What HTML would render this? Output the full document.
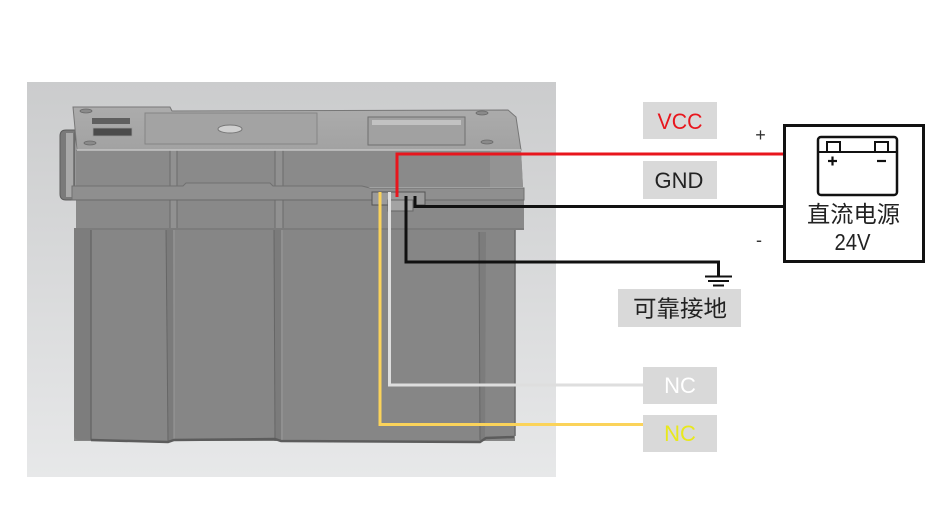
<!DOCTYPE html>
<html><head><meta charset="utf-8"><style>
html,body{margin:0;padding:0;background:#fff;}
svg{display:block;}
text{font-family:"Liberation Sans","Noto Sans CJK SC",sans-serif;}
</style></head><body>
<svg width="942" height="520" viewBox="0 0 942 520" xmlns="http://www.w3.org/2000/svg">
<defs>
<linearGradient id="bg" x1="0" y1="0" x2="0" y2="1">
<stop offset="0" stop-color="#cbcccd"/>
<stop offset="1" stop-color="#e7e8e9"/>
</linearGradient>
<linearGradient id="lid" x1="0" y1="0" x2="0" y2="1">
<stop offset="0" stop-color="#acacac"/>
<stop offset="1" stop-color="#a2a2a2"/>
</linearGradient>
</defs>
<rect width="942" height="520" fill="#fff"/>
<rect x="27" y="82" width="529" height="395" fill="url(#bg)"/>

<!-- battery body -->
<path d="M60,136 q0,-6 6,-6 h9 v70 h-9 q-6,0 -6,-6z" fill="#7a7a7a" stroke="#5c5c5c" stroke-width="1"/>
<rect x="66" y="133" width="7" height="64" fill="#a9a9a9"/>

<rect x="74" y="228" width="441" height="213" fill="#868686"/>
<path d="M74,228 h17 v212 h-12 q-5,0 -5,-6z" fill="#7d7d7d"/>
<line x1="91" y1="228" x2="91" y2="440" stroke="#686868" stroke-width="1.5"/>
<path d="M166,228 L168,441 L174,441 L173,228z" fill="#7b7b7b"/>
<line x1="166" y1="228" x2="168" y2="441" stroke="#666" stroke-width="1"/>
<line x1="174" y1="228" x2="174" y2="441" stroke="#999" stroke-width="1"/>
<path d="M274,228 L275,441 L281,441 L281,228z" fill="#7b7b7b"/>
<line x1="274" y1="228" x2="275" y2="441" stroke="#666" stroke-width="1"/>
<line x1="282" y1="228" x2="282" y2="441" stroke="#999" stroke-width="1"/>
<path d="M479,232 L480,440 L485,440 L486,232z" fill="#7c7c7c"/>
<line x1="479" y1="232" x2="480" y2="440" stroke="#666" stroke-width="1"/>
<line x1="515" y1="228" x2="515" y2="436" stroke="#6a6a6a" stroke-width="1.5"/>
<path d="M91,440 L168,442 L174,440 L275,439 L281,441 L480,442 L486,438 L514,437" fill="none" stroke="#5c5c5c" stroke-width="2.5"/>

<!-- lower band -->
<rect x="76" y="200" width="448" height="30" fill="#898989"/>
<line x1="76" y1="229" x2="524" y2="229" stroke="#6f6f6f" stroke-width="1"/>
<!-- upper band -->
<polygon points="76,150 521,150 523,187 76,187" fill="#8a8a8a"/>
<polygon points="490,150 521,150 523,187 490,187" fill="#939393"/>
<rect x="170" y="150" width="7" height="78" fill="#919191"/>
<line x1="170" y1="150" x2="170" y2="228" stroke="#6c6c6c" stroke-width="1"/>
<line x1="177" y1="150" x2="177" y2="228" stroke="#6c6c6c" stroke-width="1"/>
<rect x="275" y="150" width="8" height="78" fill="#919191"/>
<line x1="275" y1="150" x2="275" y2="228" stroke="#6c6c6c" stroke-width="1"/>
<line x1="283" y1="150" x2="283" y2="228" stroke="#6c6c6c" stroke-width="1"/>
<!-- ridge -->
<path d="M72,186 H183 L186,183 H270 L273,186 H362 L370,188 H524 V200 H72z" fill="#8f8f8f" stroke="#707070" stroke-width="1"/>
<line x1="72" y1="200" x2="524" y2="200" stroke="#6a6a6a" stroke-width="1"/>

<!-- lid top -->
<polygon points="73,107 170,107 172,111 508,110 516,117 521,150 77,150" fill="url(#lid)" stroke="#777" stroke-width="1"/>
<line x1="77" y1="150" x2="521" y2="150" stroke="#c4c4c4" stroke-width="1.5"/>
<rect x="92" y="118" width="38" height="6" fill="#5f5f5f"/>
<rect x="93" y="128" width="39" height="8" fill="#4b4b4b" stroke="#9a9a9a" stroke-width="0.8"/>
<rect x="145" y="113" width="172" height="31" fill="#a3a3a3" stroke="#858585" stroke-width="1"/>
<ellipse cx="230" cy="129" rx="12" ry="4" fill="#cfcfcf" stroke="#777" stroke-width="1"/>
<rect x="368" y="117" width="97" height="28" fill="#a1a1a1" stroke="#6f6f6f" stroke-width="1"/>
<rect x="372" y="120" width="89" height="5" fill="#c2c2c2"/>
<ellipse cx="86" cy="111" rx="6" ry="2" fill="#8a8a8a" stroke="#6a6a6a" stroke-width="0.8"/>
<ellipse cx="90" cy="143" rx="6" ry="2" fill="#8a8a8a" stroke="#6a6a6a" stroke-width="0.8"/>
<ellipse cx="482" cy="113" rx="6" ry="2" fill="#8a8a8a" stroke="#6a6a6a" stroke-width="0.8"/>
<ellipse cx="487" cy="142" rx="6" ry="2" fill="#8a8a8a" stroke="#6a6a6a" stroke-width="0.8"/>

<!-- connector -->
<rect x="372" y="192" width="53" height="13" fill="#9b9b9b" stroke="#555" stroke-width="1"/>
<rect x="388" y="200" width="25" height="11" fill="#a3a3a3" stroke="#666" stroke-width="1"/>

<!-- wires -->
<path d="M397,197 V154 H783" fill="none" stroke="#e8161d" stroke-width="3"/>
<path d="M415,196 V206.5 H784" fill="none" stroke="#111" stroke-width="3"/>
<path d="M406,196 V262 H718.5 V276" fill="none" stroke="#111" stroke-width="3"/>
<line x1="705" y1="276.5" x2="732" y2="276.5" stroke="#111" stroke-width="2"/>
<line x1="708" y1="281" x2="729" y2="281" stroke="#111" stroke-width="2"/>
<line x1="713" y1="285.5" x2="724" y2="285.5" stroke="#111" stroke-width="2"/>
<path d="M389.5,192 V385 H643" fill="none" stroke="#dedede" stroke-width="3"/>
<path d="M380,192 V424.5 H643" fill="none" stroke="#fbd35a" stroke-width="3"/>

<!-- labels -->
<rect x="643" y="102" width="74" height="37" fill="#d9d9d9"/>
<text x="680" y="129" font-size="22" fill="#e8161d" text-anchor="middle" textLength="45" lengthAdjust="spacingAndGlyphs">VCC</text>
<rect x="643" y="161" width="74" height="38" fill="#d9d9d9"/>
<text x="679" y="188" font-size="22" fill="#222" text-anchor="middle">GND</text>
<text x="760.5" y="141" font-size="18" fill="#333" text-anchor="middle">+</text>
<text x="759" y="246" font-size="18" fill="#333" text-anchor="middle">-</text>

<rect x="784.5" y="125.5" width="139" height="136" fill="#fff" stroke="#111" stroke-width="3"/>
<rect x="818" y="137" width="79" height="58" rx="3" fill="none" stroke="#111" stroke-width="2.5"/>
<line x1="818" y1="152" x2="897" y2="152" stroke="#111" stroke-width="2"/>
<rect x="827" y="142" width="13" height="10" fill="none" stroke="#111" stroke-width="2"/>
<rect x="875" y="142" width="13" height="10" fill="none" stroke="#111" stroke-width="2"/>
<line x1="828" y1="161" x2="837" y2="161" stroke="#111" stroke-width="2.2"/>
<line x1="832.5" y1="156.5" x2="832.5" y2="165.5" stroke="#111" stroke-width="2.2"/>
<line x1="877" y1="161" x2="886" y2="161" stroke="#111" stroke-width="2.2"/>
<text x="853.5" y="222" font-size="23" fill="#222" text-anchor="middle" textLength="93" lengthAdjust="spacingAndGlyphs">直流电源</text>
<text x="852.5" y="250" font-size="23" fill="#222" text-anchor="middle" textLength="36" lengthAdjust="spacingAndGlyphs">24V</text>

<rect x="618" y="289" width="123" height="38" fill="#d9d9d9"/>
<text x="680" y="316.5" font-size="23" fill="#222" text-anchor="middle" textLength="94" lengthAdjust="spacingAndGlyphs">可靠接地</text>

<rect x="643" y="367" width="74" height="37" fill="#d9d9d9"/>
<text x="680" y="393" font-size="22" fill="#ffffff" text-anchor="middle">NC</text>
<rect x="643" y="415" width="74" height="37" fill="#d9d9d9"/>
<text x="680" y="441" font-size="22" fill="#e8e81c" text-anchor="middle">NC</text>
</svg>
</body></html>
